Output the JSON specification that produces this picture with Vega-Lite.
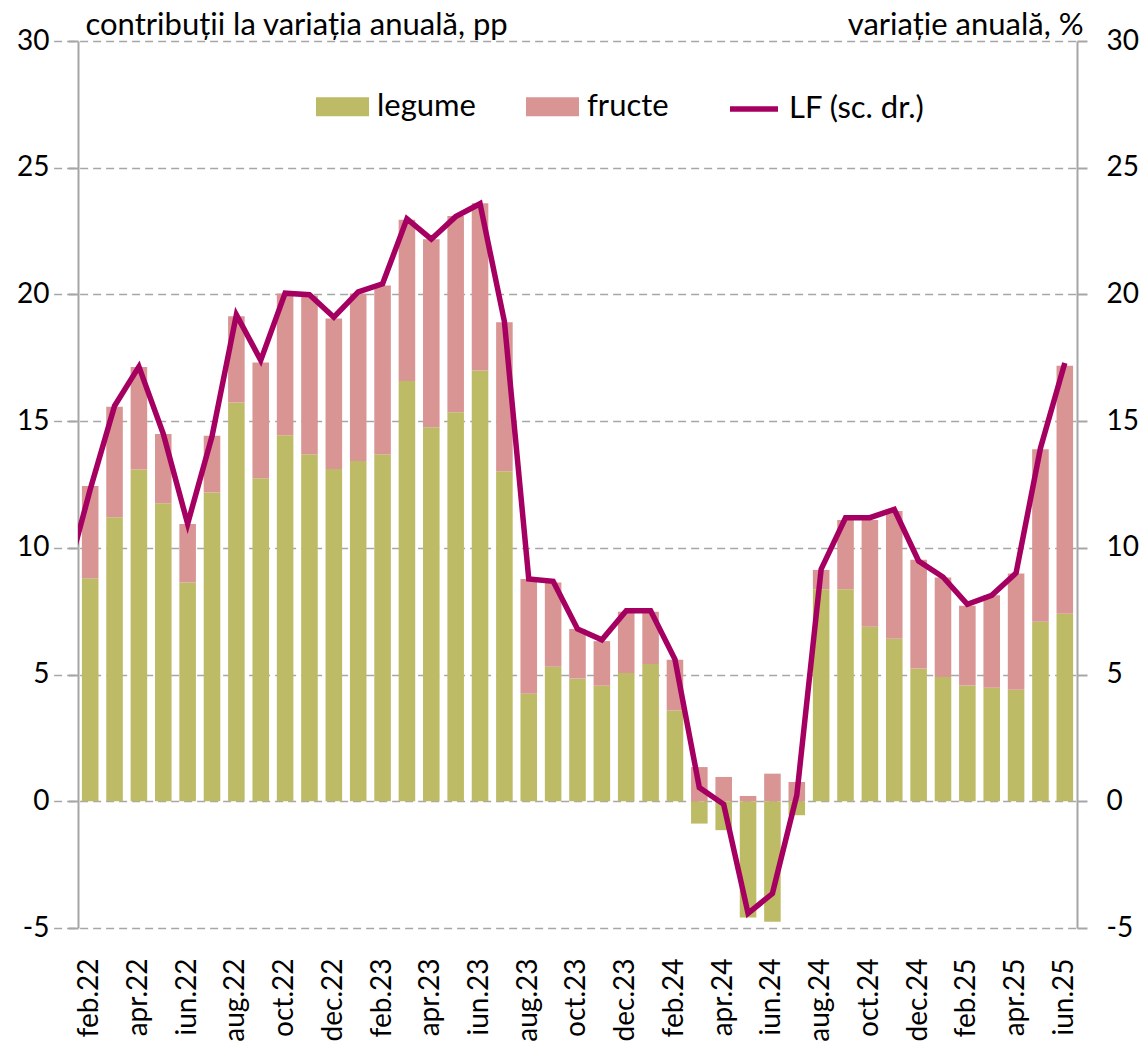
{
  "$schema": "https://vega.github.io/schema/vega-lite/v6.json",
  "width": 999,
  "height": 887,
  "autosize": {"type": "none"},
  "padding": {"left": 78, "top": 41, "right": 68, "bottom": 121},
  "background": "white",
  "config": {
    "font": "Lato",
    "view": {"stroke": null},
    "axis": {"labelFont": "Lato", "titleFont": "Lato", "labelColor": "#000000", "titleColor": "#000000"},
    "legend": {"labelFont": "Lato", "labelColor": "#000000"}
  },
  "datasets": {
    "contrib": [
      {"luna": "feb.22", "legume": 8.80, "fructe": 3.64},
      {"luna": "mar.22", "legume": 11.21, "fructe": 4.36},
      {"luna": "apr.22", "legume": 13.09, "fructe": 4.05},
      {"luna": "mai.22", "legume": 11.76, "fructe": 2.73},
      {"luna": "iun.22", "legume": 8.63, "fructe": 2.31},
      {"luna": "iul.22", "legume": 12.18, "fructe": 2.24},
      {"luna": "aug.22", "legume": 15.74, "fructe": 3.40},
      {"luna": "sep.22", "legume": 12.75, "fructe": 4.56},
      {"luna": "oct.22", "legume": 14.44, "fructe": 5.60},
      {"luna": "nov.22", "legume": 13.69, "fructe": 6.27},
      {"luna": "dec.22", "legume": 13.11, "fructe": 5.94},
      {"luna": "ian.23", "legume": 13.43, "fructe": 6.61},
      {"luna": "feb.23", "legume": 13.69, "fructe": 6.66},
      {"luna": "mar.23", "legume": 16.58, "fructe": 6.37},
      {"luna": "apr.23", "legume": 14.76, "fructe": 7.42},
      {"luna": "mai.23", "legume": 15.35, "fructe": 7.74},
      {"luna": "iun.23", "legume": 17.00, "fructe": 6.60},
      {"luna": "iul.23", "legume": 13.02, "fructe": 5.88},
      {"luna": "aug.23", "legume": 4.24, "fructe": 4.53},
      {"luna": "sep.23", "legume": 5.31, "fructe": 3.32},
      {"luna": "oct.23", "legume": 4.84, "fructe": 1.96},
      {"luna": "nov.23", "legume": 4.56, "fructe": 1.76},
      {"luna": "dec.23", "legume": 5.06, "fructe": 2.42},
      {"luna": "ian.24", "legume": 5.42, "fructe": 2.06},
      {"luna": "feb.24", "legume": 3.58, "fructe": 2.00},
      {"luna": "mar.24", "legume": -0.88, "fructe": 1.35},
      {"luna": "apr.24", "legume": -1.14, "fructe": 0.96},
      {"luna": "mai.24", "legume": -4.59, "fructe": 0.21},
      {"luna": "iun.24", "legume": -4.75, "fructe": 1.09},
      {"luna": "iul.24", "legume": -0.55, "fructe": 0.76},
      {"luna": "aug.24", "legume": 8.37, "fructe": 0.76},
      {"luna": "sep.24", "legume": 8.37, "fructe": 2.73},
      {"luna": "oct.24", "legume": 6.89, "fructe": 4.21},
      {"luna": "nov.24", "legume": 6.41, "fructe": 5.04},
      {"luna": "dec.24", "legume": 5.24, "fructe": 4.29},
      {"luna": "ian.25", "legume": 4.90, "fructe": 3.93},
      {"luna": "feb.25", "legume": 4.57, "fructe": 3.15},
      {"luna": "mar.25", "legume": 4.48, "fructe": 3.65},
      {"luna": "apr.25", "legume": 4.40, "fructe": 4.59},
      {"luna": "mai.25", "legume": 7.08, "fructe": 6.81},
      {"luna": "iun.25", "legume": 7.40, "fructe": 9.79}
    ],
    "lf": [
      {"luna": "ian.22", "LF": 8.7},
      {"luna": "feb.22", "LF": 12.3},
      {"luna": "mar.22", "LF": 15.6},
      {"luna": "apr.22", "LF": 17.15},
      {"luna": "mai.22", "LF": 14.5},
      {"luna": "iun.22", "LF": 10.95},
      {"luna": "iul.22", "LF": 14.4},
      {"luna": "aug.22", "LF": 19.2},
      {"luna": "sep.22", "LF": 17.4},
      {"luna": "oct.22", "LF": 20.05},
      {"luna": "nov.22", "LF": 19.99},
      {"luna": "dec.22", "LF": 19.1},
      {"luna": "ian.23", "LF": 20.1},
      {"luna": "feb.23", "LF": 20.42},
      {"luna": "mar.23", "LF": 22.98},
      {"luna": "apr.23", "LF": 22.18},
      {"luna": "mai.23", "LF": 23.07},
      {"luna": "iun.23", "LF": 23.58},
      {"luna": "iul.23", "LF": 18.93},
      {"luna": "aug.23", "LF": 8.77},
      {"luna": "sep.23", "LF": 8.68},
      {"luna": "oct.23", "LF": 6.8},
      {"luna": "nov.23", "LF": 6.37},
      {"luna": "dec.23", "LF": 7.52},
      {"luna": "ian.24", "LF": 7.52},
      {"luna": "feb.24", "LF": 5.6},
      {"luna": "mar.24", "LF": 0.54},
      {"luna": "apr.24", "LF": -0.12},
      {"luna": "mai.24", "LF": -4.42},
      {"luna": "iun.24", "LF": -3.64},
      {"luna": "iul.24", "LF": 0.24},
      {"luna": "aug.24", "LF": 9.16},
      {"luna": "sep.24", "LF": 11.19},
      {"luna": "oct.24", "LF": 11.19},
      {"luna": "nov.24", "LF": 11.52},
      {"luna": "dec.24", "LF": 9.48},
      {"luna": "ian.25", "LF": 8.85},
      {"luna": "feb.25", "LF": 7.77},
      {"luna": "mar.25", "LF": 8.13},
      {"luna": "apr.25", "LF": 9.01},
      {"luna": "mai.25", "LF": 13.93},
      {"luna": "iun.25", "LF": 17.29}
    ]
  },
  "resolve": {"axis": {"y": "independent"}, "legend": {"color": "independent", "stroke": "independent"}},
  "layer": [
    {
      "data": {"name": "contrib"},
      "transform": [{"fold": ["legume", "fructe"], "as": ["serie", "val"]}],
      "mark": {"type": "bar"},
      "encoding": {
        "x": {
          "field": "luna", "type": "ordinal",
          "scale": {
            "domain": ["ian.22","feb.22","mar.22","apr.22","mai.22","iun.22","iul.22","aug.22","sep.22","oct.22","nov.22","dec.22","ian.23","feb.23","mar.23","apr.23","mai.23","iun.23","iul.23","aug.23","sep.23","oct.23","nov.23","dec.23","ian.24","feb.24","mar.24","apr.24","mai.24","iun.24","iul.24","aug.24","sep.24","oct.24","nov.24","dec.24","ian.25","feb.25","mar.25","apr.25","mai.25","iun.25"],
            "range": [-24.37, 999],
            "paddingInner": 0.32,
            "paddingOuter": 0.16
          },
          "axis": {
            "title": null,
            "values": ["feb.22","apr.22","iun.22","aug.22","oct.22","dec.22","feb.23","apr.23","iun.23","aug.23","oct.23","dec.23","feb.24","apr.24","iun.24","aug.24","oct.24","dec.24","feb.25","apr.25","iun.25"],
            "labelAngle": -90,
            "labelFontSize": 28,
            "labelPadding": 30,
            "ticks": false,
            "domain": false,
            "grid": false
          }
        },
        "y": {
          "field": "val", "type": "quantitative", "stack": "zero",
          "scale": {"domain": [-5, 30], "nice": false, "zero": false},
          "axis": {
            "orient": "left",
            "values": [-5, 0, 5, 10, 15, 20, 25, 30],
            "labelExpr": "'' + datum.value",
            "title": "contribuții la variația anuală, pp",
            "titleAngle": 0,
            "titleAlign": "left",
            "titleBaseline": "alphabetic",
            "titleX": 7,
            "titleY": -7,
            "titleFontSize": 31,
            "titleFontWeight": "normal",
            "labelFontSize": 28,
            "labelPadding": 19,
            "tickSize": 10,
            "tickColor": "#A6A6A6",
            "tickWidth": 2,
            "domainColor": "#A6A6A6",
            "domainWidth": 2,
            "grid": true,
            "gridColor": "#A6A6A6",
            "gridWidth": 1.5,
            "gridDash": [8, 5]
          }
        },
        "color": {
          "field": "serie", "type": "nominal",
          "scale": {"domain": ["legume", "fructe"], "range": ["#BEBB66", "#D99594"]},
          "legend": {
            "title": null,
            "orient": "none",
            "direction": "horizontal",
            "legendX": 238,
            "legendY": 39,
            "padding": 0,
            "symbolType": "M-1,-0.358H1V0.358H-1Z",
            "symbolSize": 2809,
            "symbolStrokeWidth": 0,
            "labelFontSize": 31,
            "labelOffset": 8,
            "columnPadding": 50,
            "gridAlign": "all"
          }
        },
        "order": {"field": "serie", "sort": "descending"}
      }
    },
    {
      "mark": {"type": "rule", "color": "#A6A6A6", "strokeWidth": 2},
      "encoding": {
        "y": {"datum": 0, "type": "quantitative", "axis": null}
      }
    },
    {
      "data": {"name": "lf"},
      "mark": {"type": "line", "clip": true, "strokeWidth": 5.5, "strokeJoin": "miter"},
      "encoding": {
        "x": {"field": "luna", "type": "ordinal"},
        "y": {
          "field": "LF", "type": "quantitative",
          "axis": {
            "orient": "right",
            "values": [-5, 0, 5, 10, 15, 20, 25, 30],
            "labelExpr": "'' + datum.value",
            "title": "variație anuală, %",
            "titleAngle": 0,
            "titleAlign": "right",
            "titleBaseline": "alphabetic",
            "titleX": 6,
            "titleY": -7,
            "titleFontSize": 31,
            "titleFontWeight": "normal",
            "labelFontSize": 28,
            "labelPadding": 19,
            "tickSize": 10,
            "tickColor": "#A6A6A6",
            "tickWidth": 2,
            "domainColor": "#A6A6A6",
            "domainWidth": 2,
            "grid": false
          }
        },
        "stroke": {
          "datum": "LF (sc. dr.)",
          "type": "nominal",
          "scale": {"range": ["#A50061"]},
          "legend": {
            "title": null,
            "orient": "none",
            "legendX": 649,
            "legendY": 41,
            "padding": 0,
            "symbolType": "stroke",
            "symbolSize": 2304,
            "symbolStrokeWidth": 5.5,
            "labelFontSize": 31,
            "labelOffset": 8
          }
        }
      }
    }
  ]
}
